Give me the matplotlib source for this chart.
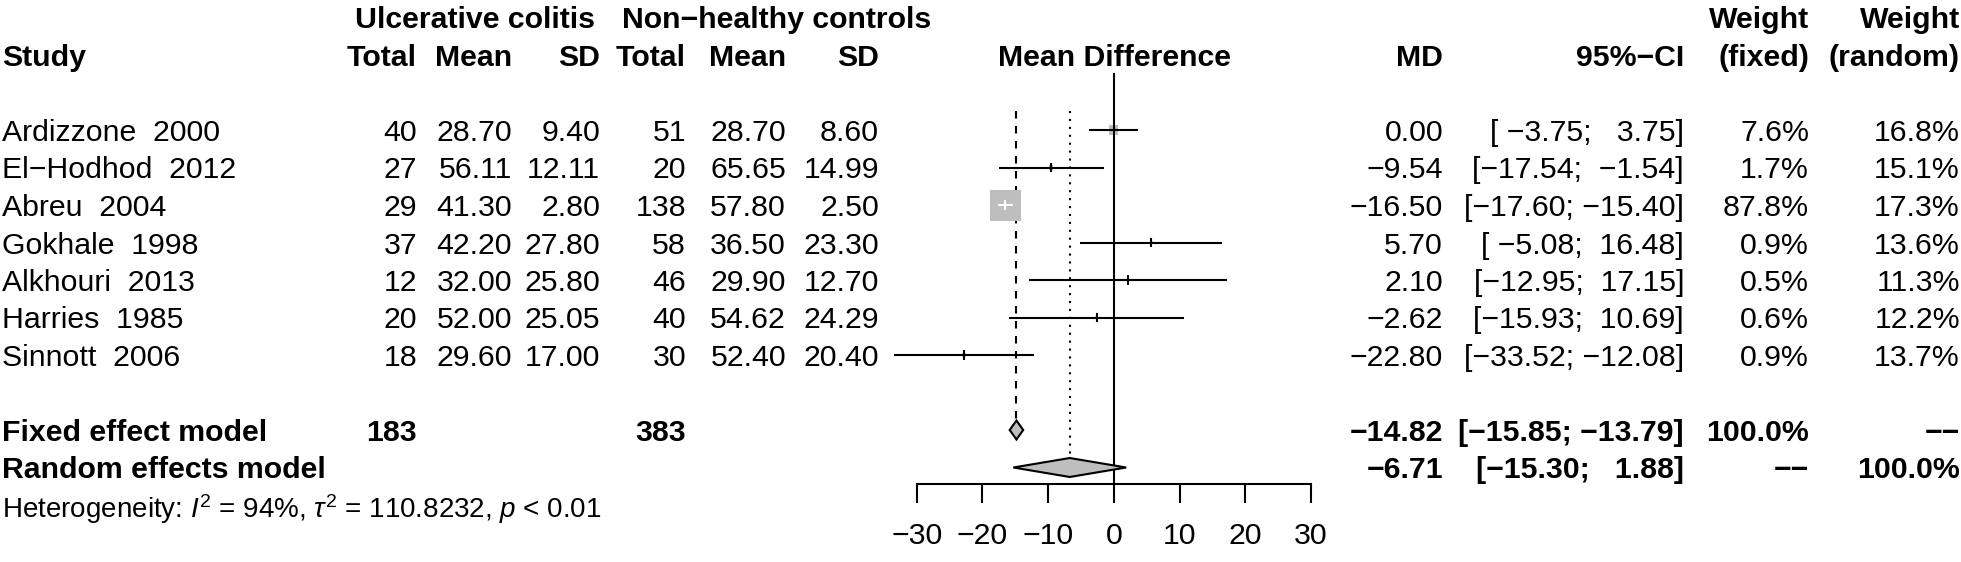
import matplotlib.pyplot as plt
from matplotlib.patches import Polygon

plt.rcParams["font.family"] = ["Liberation Sans", "DejaVu Sans"]
plt.rcParams["mathtext.fontset"] = "custom"
plt.rcParams["mathtext.rm"] = "Liberation Sans"
plt.rcParams["mathtext.it"] = "Liberation Sans:italic"

# -------------------------
# Data
# -------------------------
studies = ["Ardizzone  2000", "El−Hodhod  2012", "Abreu  2004", "Gokhale  1998",
           "Alkhouri  2013", "Harries  1985", "Sinnott  2006"]
n_uc = [40, 27, 29, 37, 12, 20, 18]
mean_uc = [28.70, 56.11, 41.30, 42.20, 32.00, 52.00, 29.60]
sd_uc = [9.40, 12.11, 2.80, 27.80, 25.80, 25.05, 17.00]
n_ctrl = [51, 20, 138, 58, 46, 40, 30]
mean_ctrl = [28.70, 65.65, 57.80, 36.50, 29.90, 54.62, 52.40]
sd_ctrl = [8.60, 14.99, 2.50, 23.30, 12.70, 24.29, 20.40]
md = [0.00, -9.54, -16.50, 5.70, 2.10, -2.62, -22.80]
ci_lo = [-3.75, -17.54, -17.60, -5.08, -12.95, -15.93, -33.52]
ci_hi = [3.75, -1.54, -15.40, 16.48, 17.15, 10.69, -12.08]
w_fixed = [7.6, 1.7, 87.8, 0.9, 0.5, 0.6, 0.9]
w_random = [16.8, 15.1, 17.3, 13.6, 11.3, 12.2, 13.7]

model_names = ["Fixed effect model", "Random effects model"]
model_md = [-14.82, -6.71]
model_lo = [-15.85, -15.30]
model_hi = [-13.79, 1.88]
model_w_fixed = ["100.0%", "−−"]
model_w_random = ["−−", "100.0%"]
total_uc = 183
total_ctrl = 383
xticks = [-30, -20, -10, 0, 10, 20, 30]
het_label = r"Heterogeneity: $\mathit{I}^2$ = 94%, $\tau^2$ = 110.8232, $\mathit{p}$ < 0.01"


def fmt(v, d=2):
    return f"{v:.{d}f}".replace("-", "−")


# -------------------------
# Layout (pixels)
# -------------------------
W, H = 1961, 562
ROW0, DY = 130, 37.5
FS = 21.8
GRAY = "#bebebe"
LW = 1.5

fig = plt.figure(figsize=(W / 100, H / 100), dpi=100)

ax = fig.add_axes([0, 0, 1, 1])
ax.set_xlim(0, W)
ax.set_ylim((H - ROW0) / DY, -ROW0 / DY)
ax.axis("off")

x_m30, x_p30, y_axis = 916.7, 1311.0, 484
fa = fig.add_axes([x_m30 / W, (H - y_axis) / H, (x_p30 - x_m30) / W, y_axis / H])
fa.set_xlim(-30, 30)
k_axis = (y_axis - ROW0) / DY
fa.set_ylim(k_axis, -ROW0 / DY)
fa.patch.set_visible(False)
for s in ["top", "left", "right"]:
    fa.spines[s].set_visible(False)
fa.spines["bottom"].set_linewidth(LW)
fa.set_yticks([])
fa.set_xticks(xticks)
fa.tick_params(axis="x", direction="out", length=13.7, width=LW,
               labelsize=FS, pad=14)


def txt(x, k, s, ha="right", bold=False, size=FS):
    ax.text(x, k, s, ha=ha, va="center_baseline", fontsize=size,
            fontweight="bold" if bold else "normal")


# column right edges
c_tot1, c_mean1, c_sd1 = 417, 512, 600
c_tot2, c_mean2, c_sd2 = 686, 786, 879
c_md, c_ci, c_wf, c_wr = 1443, 1684, 1809, 1960

# headers
txt(475, -3, "Ulcerative colitis", ha="center", bold=True)
txt(777, -3, "Non−healthy controls", ha="center", bold=True)
txt(c_wf, -3, "Weight", bold=True)
txt(c_wr, -3, "Weight", bold=True)
txt(2, -2, "Study", ha="left", bold=True)
for x, s in [(c_tot1, "Total"), (c_mean1, "Mean"), (c_sd1, "SD"),
             (c_tot2, "Total"), (c_mean2, "Mean"), (c_sd2, "SD"),
             (c_md, "MD"), (c_ci, "95%−CI"), (c_wf, "(fixed)"), (c_wr, "(random)")]:
    txt(x, -2, s, bold=True)
txt(1114, -2, "Mean Difference", ha="center", bold=True)

# CI strings padded like R
all_lo = [fmt(v) for v in ci_lo + model_lo]
all_hi = [fmt(v) for v in ci_hi + model_hi]
wl = max(len(s) for s in all_lo)
wh = max(len(s) for s in all_hi)
ci_str = ["[" + a.rjust(wl) + "; " + b.rjust(wh) + "]" for a, b in zip(all_lo, all_hi)]

# study rows
for i in range(len(studies)):
    txt(2, i, studies[i], ha="left")
    txt(c_tot1, i, str(n_uc[i]))
    txt(c_mean1, i, fmt(mean_uc[i]))
    txt(c_sd1, i, fmt(sd_uc[i]))
    txt(c_tot2, i, str(n_ctrl[i]))
    txt(c_mean2, i, fmt(mean_ctrl[i]))
    txt(c_sd2, i, fmt(sd_ctrl[i]))
    txt(c_md, i, fmt(md[i]))
    txt(c_ci, i, ci_str[i])
    txt(c_wf, i, fmt(w_fixed[i], 1) + "%")
    txt(c_wr, i, fmt(w_random[i], 1) + "%")

# summary rows
n = len(studies)
for j in range(2):
    k = n + 1 + j
    txt(2, k, model_names[j], ha="left", bold=True)
    txt(c_md, k, fmt(model_md[j]), bold=True)
    txt(c_ci, k, ci_str[n + j], bold=True)
    txt(c_wf, k, model_w_fixed[j], bold=True)
    txt(c_wr, k, model_w_random[j], bold=True)
txt(c_tot1, n + 1, str(total_uc), bold=True)
txt(c_tot2, n + 1, str(total_ctrl), bold=True)
txt(2, n + 3, het_label, ha="left", size=20)

# -------------------------
# Forest
# -------------------------
rows = list(range(n))
dh = 0.253
fa.plot([0, 0], [-1.5, k_axis], color="black", lw=LW, clip_on=False, zorder=1)
fa.plot([model_md[0]] * 2, [-0.5, n + 1 - dh], color="black", lw=LW,
        ls=(0, (3.6, 3.6)), clip_on=False, zorder=1)
fa.plot([model_md[1]] * 2, [-0.5, n + 2 - dh], color="black", lw=LW,
        ls=(0, (1, 2.8)), clip_on=False, zorder=1)

px_per_unit = (x_p30 - x_m30) / 60
side_px = [31 * (w / max(w_fixed)) ** 0.5 for w in w_fixed]
fa.scatter(md, rows, s=[(p * 0.72) ** 2 for p in side_px], marker="s",
           color=GRAY, linewidths=0, zorder=2, clip_on=False)
cols = []
for i in range(n):
    half = side_px[i] / 2 / px_per_unit
    inside = ci_lo[i] >= md[i] - half and ci_hi[i] <= md[i] + half
    cols.append("white" if inside else "black")
fa.hlines(rows, ci_lo, ci_hi, colors=cols, lw=LW, zorder=3, clip_on=False)
fa.vlines(md, [r - 0.13 for r in rows], [r + 0.13 for r in rows], colors=cols,
          lw=LW, zorder=3, clip_on=False)

for j in range(2):
    k = n + 1 + j
    poly = Polygon([(model_lo[j], k), (model_md[j], k - dh), (model_hi[j], k),
                    (model_md[j], k + dh)], closed=True, facecolor=GRAY,
                   edgecolor="black", lw=LW, zorder=3, clip_on=False)
    fa.add_patch(poly)

fig.savefig("out.png", dpi=100)
